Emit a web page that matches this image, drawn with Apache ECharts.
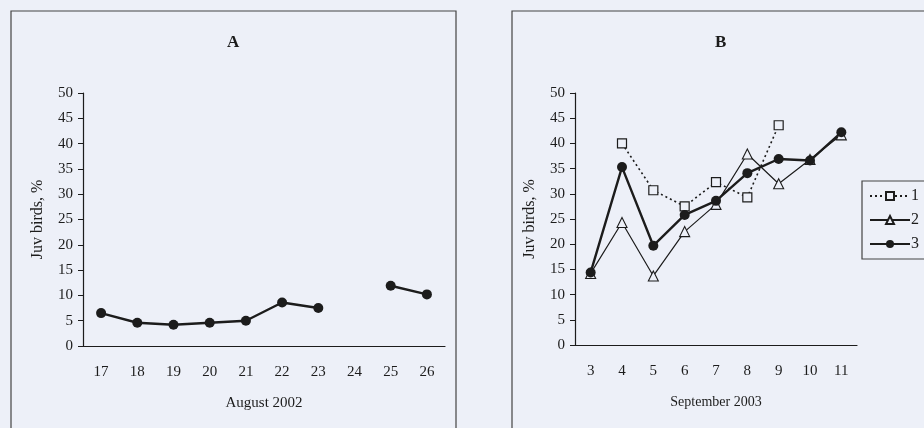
<!DOCTYPE html>
<html>
<head>
<meta charset="utf-8">
<script src="https://cdn.jsdelivr.net/npm/echarts@6/dist/echarts.min.js"></script>
<style>
  html, body { margin: 0; padding: 0; background: #edf0f8; }
  #chart { width: 924px; height: 428px; }
</style>
</head>
<body>
<div id="chart"></div>
<script>
// panel A: August 2002
const daysA = ["17", "18", "19", "20", "21", "22", "23", "24", "25", "26"];
const juvA = [6.5, 4.6, 4.2, 4.6, 5.0, 8.6, 7.5, null, 11.9, 10.2];

// panel B: September 2003
const daysB = ["3", "4", "5", "6", "7", "8", "9", "10", "11"];
const juvB1 = [null, 40, 30.7, 27.5, 32.3, 29.3, 43.6, null, null];
const juvB2 = [14.2, 24.3, 13.7, 22.5, 27.9, 37.9, 32.0, 36.8, 41.7];
const juvB3 = [14.4, 35.3, 19.7, 25.8, 28.6, 34.1, 36.9, 36.6, 42.2];

const panelTitles = ["A", "B"];
const xNames = ["August 2002", "September 2003"];
const xNameSizes = [15, 14];
const yName = "Juv birds, %";

const BG = "#edf0f8";
const INK = "#1c1c1c";
const SERIF = "'Liberation Serif', 'DejaVu Serif', serif";

const chart = echarts.init(document.getElementById("chart"));

function xAxisFor(idx, cats) {
  return {
    type: "category",
    gridIndex: idx,
    data: cats,
    name: xNames[idx],
    nameLocation: "middle",
    nameGap: 50,
    nameTextStyle: { fontFamily: SERIF, fontSize: xNameSizes[idx], color: INK },
    axisLine: { lineStyle: { color: INK, width: 1.2 } },
    axisTick: { length: 5, lineStyle: { color: INK } },
    axisLabel: { fontFamily: SERIF, fontSize: 15, color: INK, margin: 19 }
  };
}

function yAxisFor(idx) {
  return {
    type: "value",
    gridIndex: idx,
    min: 0,
    max: 50,
    interval: 5,
    name: yName,
    nameLocation: "middle",
    nameGap: 37,
    nameTextStyle: { fontFamily: SERIF, fontSize: 16, color: INK },
    axisLine: { show: true, lineStyle: { color: INK, width: 1.2 } },
    axisTick: { show: true, length: 5, lineStyle: { color: INK } },
    axisLabel: { fontFamily: SERIF, fontSize: 15, color: INK, margin: 10 },
    splitLine: { show: false }
  };
}

chart.setOption({
  backgroundColor: BG,
  animation: false,
  grid: [
    { left: 83, right: 479, top: 93, bottom: 82 },
    { left: 575, right: 67, top: 93, bottom: 83 }
  ],
  xAxis: [xAxisFor(0, daysA), xAxisFor(1, daysB)],
  yAxis: [yAxisFor(0), yAxisFor(1)],
  legend: {
    data: ["1", "2", "3"],
    orient: "vertical",
    left: 864,
    top: 183,
    itemWidth: 40,
    itemHeight: 10,
    itemGap: 8,
    textStyle: { fontFamily: SERIF, fontSize: 16, color: INK, padding: [0, 0, 0, -4] }
  },
  graphic: [
    { type: "rect", shape: { x: 11, y: 11, width: 445, height: 430 },
      style: { fill: null, stroke: "#444", lineWidth: 1.2 }, silent: true },
    { type: "rect", shape: { x: 512, y: 11, width: 430, height: 430 },
      style: { fill: null, stroke: "#444", lineWidth: 1.2 }, silent: true },
    { type: "rect", shape: { x: 862, y: 181, width: 80, height: 78 },
      style: { fill: null, stroke: "#444", lineWidth: 1.2 }, silent: true },
    { type: "text", left: 227, top: 34,
      style: { text: panelTitles[0], font: "bold 17px " + SERIF, fill: INK } },
    { type: "text", left: 715, top: 34,
      style: { text: panelTitles[1], font: "bold 17px " + SERIF, fill: INK } }
  ],
  series: [
    {
      name: "A",
      type: "line",
      xAxisIndex: 0,
      yAxisIndex: 0,
      data: juvA,
      symbol: "circle",
      symbolSize: 10,
      lineStyle: { color: INK, width: 2.4 },
      itemStyle: { color: INK }
    },
    {
      name: "1",
      type: "line",
      xAxisIndex: 1,
      yAxisIndex: 1,
      data: juvB1,
      symbol: "rect",
      symbolSize: 9,
      lineStyle: { color: INK, width: 1.6, type: [2, 3] },
      itemStyle: { color: BG, borderColor: INK, borderWidth: 1.2 }
    },
    {
      name: "2",
      type: "line",
      xAxisIndex: 1,
      yAxisIndex: 1,
      data: juvB2,
      symbol: "triangle",
      symbolSize: 10,
      lineStyle: { color: INK, width: 1.2 },
      itemStyle: { color: BG, borderColor: INK, borderWidth: 1.1 }
    },
    {
      name: "3",
      type: "line",
      xAxisIndex: 1,
      yAxisIndex: 1,
      data: juvB3,
      symbol: "circle",
      symbolSize: 10,
      lineStyle: { color: INK, width: 2.4 },
      itemStyle: { color: INK }
    }
  ]
});
</script>
</body>
</html>
